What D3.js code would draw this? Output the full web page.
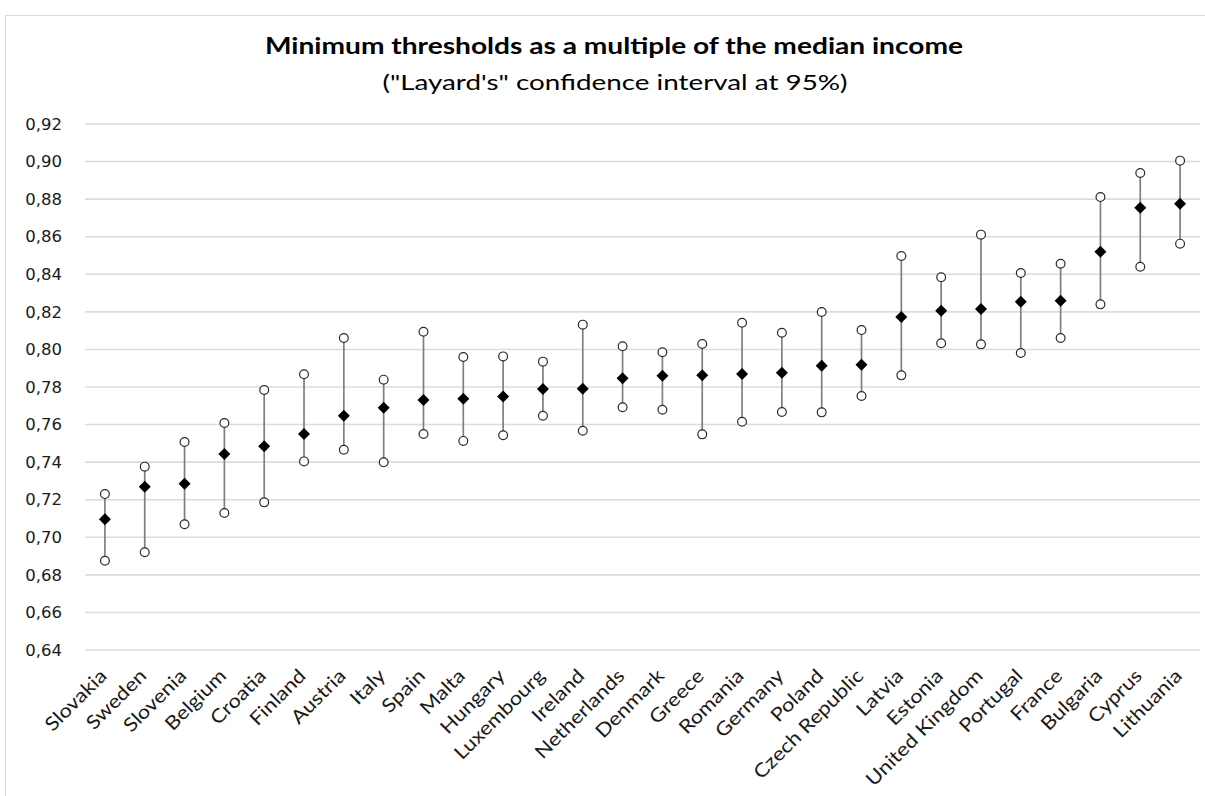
<!DOCTYPE html>
<html><head><meta charset="utf-8">
<script src="https://cdn.jsdelivr.net/npm/d3@7"></script>
<style>body{margin:0;background:#fff}svg{display:block}</style>
</head><body>
<svg id="c" width="1205" height="796"></svg>
<script>
const countries = ["Slovakia","Sweden","Slovenia","Belgium","Croatia","Finland","Austria","Italy","Spain","Malta","Hungary","Luxembourg","Ireland","Netherlands","Denmark","Greece","Romania","Germany","Poland","Czech Republic","Latvia","Estonia","United Kingdom","Portugal","France","Bulgaria","Cyprus","Lithuania"];
const upper = [0.723,0.7376,0.7507,0.7608,0.7784,0.7868,0.8061,0.7839,0.8094,0.7960,0.7963,0.7935,0.8132,0.8017,0.7985,0.8029,0.8142,0.8089,0.8199,0.8103,0.8497,0.8384,0.8611,0.8407,0.8456,0.8811,0.8939,0.9005];
const middle = [0.7096,0.7269,0.7285,0.7443,0.7484,0.7550,0.7647,0.7690,0.7731,0.7738,0.7750,0.7789,0.7791,0.7846,0.7860,0.7862,0.7869,0.7876,0.7913,0.7919,0.8173,0.8206,0.8215,0.8254,0.8259,0.8520,0.8754,0.8776];
const lower = [0.6875,0.6920,0.7069,0.7129,0.7186,0.7404,0.7466,0.7399,0.7550,0.7513,0.7543,0.7647,0.7567,0.7692,0.7679,0.7548,0.7615,0.7667,0.7665,0.7752,0.7862,0.8033,0.8027,0.7981,0.8061,0.8240,0.8440,0.8563];
const yTicks = [0.64,0.66,0.68,0.70,0.72,0.74,0.76,0.78,0.80,0.82,0.84,0.86,0.88,0.90,0.92];
const titleText = "Minimum thresholds as a multiple of the median income";
const subtitleText = "(\"Layard's\" confidence interval at 95%)";

const svg = d3.select("#c");
const font = "Lato, 'Open Sans', sans-serif";
const mLeft = 85, mRight = 1200, mTop = 124, mBottom = 650;

svg.append("rect").attr("x",5.5).attr("y",15.5).attr("width",1205).attr("height",790)
  .attr("fill","#fff").attr("stroke","#d9d9d9").attr("stroke-width",1);

const x = d3.scaleBand().domain(countries).range([mLeft,mRight]);
const y = d3.scaleLinear().domain([0.64,0.92]).range([mBottom,mTop]);

// grid
svg.append("g").selectAll("line").data(yTicks).join("line")
  .attr("x1",mLeft).attr("x2",mRight)
  .attr("y1",d=>y(d)).attr("y2",d=>y(d))
  .attr("stroke","#dcdcdc").attr("stroke-width",1.6);

// y axis labels
const yAxis = d3.axisLeft(y).tickValues(yTicks).tickSize(0).tickPadding(0)
  .tickFormat(d=>d3.format(".2f")(d).replace(".",","));
const ga = svg.append("g").attr("transform",`translate(62,0)`).call(yAxis);
ga.select(".domain").remove();
ga.selectAll("text").attr("font-family","'DejaVu Sans', sans-serif").attr("font-size",16.5).attr("fill","#1a1a1a");

// x labels
const gx = svg.append("g").attr("transform",`translate(0,${mBottom})`)
  .call(d3.axisBottom(x).tickSize(0).tickPadding(0));
gx.select(".domain").remove();
gx.selectAll("text").attr("font-family",font).attr("font-size",19).attr("fill","#1a1a1a")
  .attr("text-anchor","end").attr("dy",0)
  .attr("transform","translate(3,27) rotate(-45)")
  .each(function(){
    const L = this.getComputedTextLength();
    d3.select(this).attr("textLength",L*1.15).attr("lengthAdjust","spacingAndGlyphs");
  });

// whiskers
const cx = d=>x(d)+x.bandwidth()/2;
const g = svg.append("g");
g.selectAll("line.w").data(countries).join("line").attr("class","w")
  .attr("x1",cx).attr("x2",cx)
  .attr("y1",(d,i)=>y(upper[i])).attr("y2",(d,i)=>y(lower[i]))
  .attr("stroke","#7f7f7f").attr("stroke-width",1.7);
const circ = (arr)=>g.append("g").selectAll("circle").data(countries).join("circle")
  .attr("cx",cx).attr("cy",(d,i)=>y(arr[i])).attr("r",4.4)
  .attr("fill","#fff").attr("stroke","#2a2a2a").attr("stroke-width",1.2);
circ(upper); circ(lower);
const diamond = d3.symbol().type(d3.symbolSquare).size(72);
g.selectAll("path.m").data(countries).join("path").attr("class","m")
  .attr("d",diamond)
  .attr("transform",(d,i)=>`translate(${cx(d)},${y(middle[i])}) rotate(45)`)
  .attr("fill","#000");

svg.append("text").attr("x",614).attr("y",54).attr("text-anchor","middle")
  .attr("font-family",font).attr("font-weight","bold").attr("font-size",22.5).attr("fill","#000")
  .attr("textLength",698).attr("lengthAdjust","spacingAndGlyphs")
  .text(titleText);
svg.append("text").attr("x",615).attr("y",90).attr("text-anchor","middle")
  .attr("font-family",font).attr("font-size",21).attr("fill","#000")
  .attr("textLength",465).attr("lengthAdjust","spacingAndGlyphs")
  .text(subtitleText);
</script>
</body></html>
